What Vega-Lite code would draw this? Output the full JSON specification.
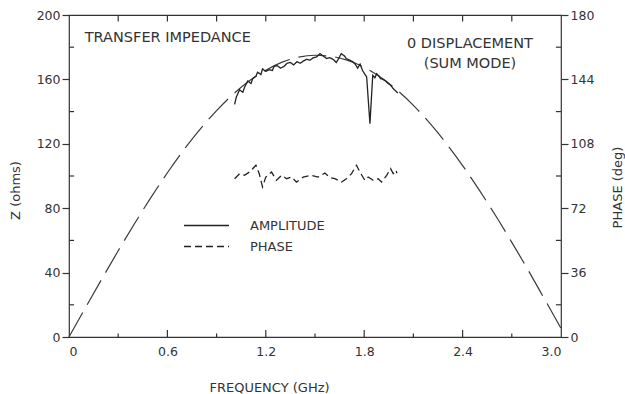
{
  "$schema": "https://vega.github.io/schema/vega-lite/v6.json",
  "width": 492,
  "height": 322,
  "autosize": {"type": "none"},
  "padding": {"left": 69, "top": 15, "right": 64, "bottom": 57},
  "background": "white",
  "config": {
    "view": {"stroke": "#333", "strokeWidth": 1.2},
    "font": "DejaVu Sans",
    "axis": {"domain": false, "grid": false, "labelColor": "#333", "titleColor": "#333", "tickColor": "#333", "tickWidth": 1.2, "labelFont": "DejaVu Sans", "labelFontSize": 12.5, "titleFont": "DejaVu Sans", "titleFontSize": 13, "titleFontWeight": "normal"},
    "legend": {"labelFont": "DejaVu Sans"}
  },
  "datasets": {
    "theory": [
      {"f": 0.0, "z": 0}, {"f": 0.1, "z": 18.1}, {"f": 0.2, "z": 36.0}, {"f": 0.3, "z": 53.6}, {"f": 0.4, "z": 70.5},
      {"f": 0.5, "z": 86.7}, {"f": 0.6, "z": 102.0}, {"f": 0.7, "z": 116.2}, {"f": 0.8, "z": 129.1}, {"f": 0.9, "z": 140.6},
      {"f": 1.0, "z": 150.7}, {"f": 1.1, "z": 159.1}, {"f": 1.2, "z": 165.7}, {"f": 1.3, "z": 170.7}, {"f": 1.4, "z": 173.8},
      {"f": 1.5, "z": 175.0}, {"f": 1.6, "z": 174.3}, {"f": 1.7, "z": 171.8}, {"f": 1.8, "z": 167.5}, {"f": 1.9, "z": 161.3},
      {"f": 2.0, "z": 153.4}, {"f": 2.1, "z": 143.9}, {"f": 2.2, "z": 132.8}, {"f": 2.3, "z": 120.3}, {"f": 2.4, "z": 106.5},
      {"f": 2.5, "z": 91.5}, {"f": 2.6, "z": 75.6}, {"f": 2.7, "z": 58.8}, {"f": 2.8, "z": 41.5}, {"f": 2.9, "z": 23.5},
      {"f": 3.0, "z": 5.4}
    ],
    "amp": [
      {"f": 1.01, "z": 144.5}, {"f": 1.02, "z": 149}, {"f": 1.04, "z": 153.5}, {"f": 1.06, "z": 152}, {"f": 1.07, "z": 155},
      {"f": 1.09, "z": 159}, {"f": 1.11, "z": 157.5}, {"f": 1.12, "z": 160.5}, {"f": 1.14, "z": 162}, {"f": 1.15, "z": 164.5},
      {"f": 1.17, "z": 163}, {"f": 1.18, "z": 166.5}, {"f": 1.2, "z": 165}, {"f": 1.22, "z": 166}, {"f": 1.24, "z": 165.5},
      {"f": 1.25, "z": 168}, {"f": 1.27, "z": 168.5}, {"f": 1.29, "z": 167}, {"f": 1.31, "z": 168}, {"f": 1.33, "z": 170},
      {"f": 1.35, "z": 170.5}, {"f": 1.37, "z": 169}, {"f": 1.39, "z": 171}, {"f": 1.41, "z": 170}, {"f": 1.43, "z": 171.5},
      {"f": 1.45, "z": 172.5}, {"f": 1.47, "z": 172}, {"f": 1.49, "z": 173.5}, {"f": 1.51, "z": 174}, {"f": 1.53, "z": 176},
      {"f": 1.55, "z": 174.5}, {"f": 1.57, "z": 173}, {"f": 1.59, "z": 173.5}, {"f": 1.61, "z": 172.5}, {"f": 1.63, "z": 170.5},
      {"f": 1.65, "z": 174}, {"f": 1.66, "z": 176}, {"f": 1.68, "z": 174.5}, {"f": 1.69, "z": 173}, {"f": 1.71, "z": 172},
      {"f": 1.73, "z": 171}, {"f": 1.745, "z": 169.5}, {"f": 1.76, "z": 167}, {"f": 1.775, "z": 169.5}, {"f": 1.79, "z": 165.5},
      {"f": 1.815, "z": 161.5}, {"f": 1.835, "z": 132.5}, {"f": 1.852, "z": 162.5}, {"f": 1.865, "z": 161}, {"f": 1.876, "z": 163.5},
      {"f": 1.89, "z": 162}, {"f": 1.9, "z": 160.5}, {"f": 1.915, "z": 160}, {"f": 1.93, "z": 159}, {"f": 1.945, "z": 157.5},
      {"f": 1.96, "z": 156.5}, {"f": 1.975, "z": 154.5}, {"f": 1.99, "z": 153}, {"f": 2.005, "z": 151.5}
    ],
    "phase": [
      {"f": 1.01, "p": 88.5}, {"f": 1.04, "p": 91.3}, {"f": 1.07, "p": 90.4}, {"f": 1.1, "p": 92.2}, {"f": 1.14, "p": 96.0},
      {"f": 1.16, "p": 91.3}, {"f": 1.18, "p": 83.9}, {"f": 1.2, "p": 89.4}, {"f": 1.235, "p": 92.2}, {"f": 1.265, "p": 87.6},
      {"f": 1.296, "p": 90.4}, {"f": 1.327, "p": 88.5}, {"f": 1.357, "p": 89.4}, {"f": 1.387, "p": 86.6}, {"f": 1.428, "p": 89.4},
      {"f": 1.479, "p": 90.4}, {"f": 1.519, "p": 89.4}, {"f": 1.56, "p": 91.7}, {"f": 1.591, "p": 89.1}, {"f": 1.621, "p": 88.5},
      {"f": 1.662, "p": 86.6}, {"f": 1.692, "p": 88.5}, {"f": 1.723, "p": 91.3}, {"f": 1.753, "p": 96.0}, {"f": 1.774, "p": 92.2},
      {"f": 1.804, "p": 87.6}, {"f": 1.824, "p": 89.4}, {"f": 1.855, "p": 87.6}, {"f": 1.885, "p": 88.5}, {"f": 1.906, "p": 86.6},
      {"f": 1.937, "p": 90.4}, {"f": 1.961, "p": 94.1}, {"f": 1.977, "p": 91.3}, {"f": 1.993, "p": 93.2}, {"f": 2.0, "p": 91.5}
    ],
    "yminor": [{"v": 20}, {"v": 60}, {"v": 100}, {"v": 140}, {"v": 180}],
    "xmajor": [{"v": 0.6}, {"v": 1.2}, {"v": 1.8}, {"v": 2.4}],
    "xminor": [{"v": 0.3}, {"v": 0.9}, {"v": 1.5}, {"v": 2.1}, {"v": 2.7}],
    "xtop": [{"v": 0.3}, {"v": 0.6}, {"v": 0.9}, {"v": 1.2}, {"v": 1.5}, {"v": 1.8}, {"v": 2.1}, {"v": 2.4}, {"v": 2.7}]
  },
  "resolve": {"scale": {"y": "independent"}},
  "layer": [
    {
      "layer": [
        {
          "data": {"name": "theory"},
          "mark": {"type": "line", "strokeDash": [28, 9], "color": "#3a3a3a", "strokeWidth": 1.2, "interpolate": "monotone"},
          "encoding": {
            "x": {"field": "f", "type": "quantitative", "scale": {"domain": [0, 3], "nice": false, "zero": false},
              "axis": {"orient": "bottom", "values": [0, 0.6, 1.2, 1.8, 2.4, 3.0], "ticks": false, "labelPadding": 8,
                "labelExpr": "datum.value == 0 ? '0' : format(datum.value, '.1f')",
                "title": "FREQUENCY (GHz)", "titleX": 200, "titleY": 50, "titleAlign": "center", "titleBaseline": "middle"}},
            "y": {"field": "z", "type": "quantitative", "scale": {"domain": [0, 200], "nice": false},
              "axis": {"orient": "left", "values": [0, 40, 80, 120, 160, 200], "tickSize": 7, "labelPadding": 2,
                "title": "Z (ohms)", "titleX": -54, "titleY": 175, "titleAngle": -90, "titleAlign": "center", "titleBaseline": "middle"}}
          }
        },
        {
          "data": {"name": "amp"},
          "mark": {"type": "line", "color": "#222", "strokeWidth": 1.3},
          "encoding": {
            "x": {"field": "f", "type": "quantitative"},
            "y": {"field": "z", "type": "quantitative"},
            "strokeDash": {"datum": "AMPLITUDE", "type": "nominal",
              "scale": {"domain": ["AMPLITUDE", "PHASE"], "range": [[1, 0], [7, 4]]},
              "legend": {"orient": "none", "legendX": 114, "legendY": 200, "title": null, "symbolType": "stroke",
                "symbolSize": 2025, "symbolStrokeWidth": 1.3, "symbolStrokeColor": "#222", "clipHeight": 21, "rowPadding": 0,
                "labelOffset": 20, "labelFontSize": 13, "labelColor": "#333", "padding": 0}}
          }
        },
        {
          "data": {"name": "yminor"},
          "mark": {"type": "rule", "color": "#333", "strokeWidth": 1.2},
          "encoding": {"y": {"field": "v", "type": "quantitative"}, "x": {"datum": 0}, "x2": {"datum": 0.031}}
        },
        {
          "data": {"name": "yminor"},
          "mark": {"type": "rule", "color": "#333", "strokeWidth": 1.2},
          "encoding": {"y": {"field": "v", "type": "quantitative"}, "x": {"datum": 3}, "x2": {"datum": 2.969}}
        },
        {
          "data": {"name": "xmajor"},
          "mark": {"type": "rule", "color": "#333", "strokeWidth": 1.2},
          "encoding": {"x": {"field": "v", "type": "quantitative"}, "y": {"datum": 0}, "y2": {"datum": 4.3}}
        },
        {
          "data": {"name": "xminor"},
          "mark": {"type": "rule", "color": "#333", "strokeWidth": 1.2},
          "encoding": {"x": {"field": "v", "type": "quantitative"}, "y": {"datum": 0}, "y2": {"datum": 2.2}}
        },
        {
          "data": {"name": "xtop"},
          "mark": {"type": "rule", "color": "#333", "strokeWidth": 1.2},
          "encoding": {"x": {"field": "v", "type": "quantitative"}, "y": {"datum": 200}, "y2": {"datum": 196}}
        },
        {
          "data": {"values": [{"label": "TRANSFER IMPEDANCE"}]},
          "mark": {"type": "text", "align": "left", "baseline": "middle", "fontSize": 14.5, "color": "#333"},
          "encoding": {"x": {"datum": 0.096}, "y": {"datum": 186}, "text": {"field": "label"}}
        },
        {
          "data": {"values": [{"label": "0 DISPLACEMENT"}]},
          "mark": {"type": "text", "align": "center", "baseline": "middle", "fontSize": 14.5, "color": "#333"},
          "encoding": {"x": {"datum": 2.445}, "y": {"datum": 182.2}, "text": {"field": "label"}}
        },
        {
          "data": {"values": [{"label": "(SUM MODE)"}]},
          "mark": {"type": "text", "align": "center", "baseline": "middle", "fontSize": 14.5, "color": "#333"},
          "encoding": {"x": {"datum": 2.445}, "y": {"datum": 169.8}, "text": {"field": "label"}}
        }
      ]
    },
    {
      "data": {"name": "phase"},
      "mark": {"type": "line", "color": "#222", "strokeWidth": 1.3},
      "encoding": {
        "x": {"field": "f", "type": "quantitative"},
        "y": {"field": "p", "type": "quantitative", "scale": {"domain": [0, 180], "nice": false},
          "axis": {"orient": "right", "values": [0, 36, 72, 108, 144, 180], "tickSize": 7, "labelPadding": 2,
            "title": "PHASE (deg)", "titleX": 56, "titleY": 172, "titleAngle": -90, "titleAlign": "center", "titleBaseline": "middle"}},
        "strokeDash": {"datum": "PHASE", "type": "nominal"}
      }
    }
  ]
}
